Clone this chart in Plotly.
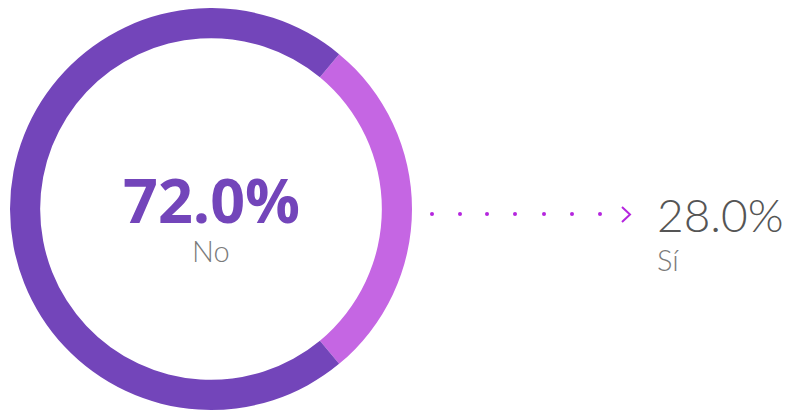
import plotly.graph_objects as go

labels = ["Sí", "No"]
values = [28.0, 72.0]
colors = ["#C566E3", "#7345BA"]

# The page body has an 8px margin; lay out in page pixels and shift.
OFF = 8
W, H = 791 - OFF, 412 - OFF


def px(x):
    return (x - OFF) / W


def py(y):
    return min(1.0, max(0.0, 1 - (y - OFF) / H))


fig = go.Figure()

# rotation so that the "Sí" slice is centered at 3 o'clock
rotation = 90 - values[0] / sum(values) * 360 / 2

fig.add_trace(go.Pie(
    labels=labels, values=values, sort=False, direction="clockwise",
    rotation=rotation, hole=0.85,
    marker=dict(colors=colors, line=dict(width=0)),
    textinfo="none", hoverinfo="label+percent", showlegend=False,
    domain=dict(x=[px(9), px(413)], y=[py(410), py(8)]),
))

# dotted connector to the callout (page pixel positions)
dot_x = [432, 460, 487, 515, 544, 572, 600]
fig.add_trace(go.Scatter(
    x=[x - OFF for x in dot_x], y=[214 - OFF] * len(dot_x), mode="markers",
    marker=dict(size=4, color="#B526DE"), hoverinfo="skip", showlegend=False,
))
fig.add_trace(go.Scatter(
    x=[622 - OFF, 630 - OFF, 622 - OFF], y=[207 - OFF, 214.5 - OFF, 222 - OFF],
    mode="lines", line=dict(color="#B526DE", width=2),
    hoverinfo="skip", showlegend=False,
))

pct = [f"{v:.1f}%" for v in values]

fig.add_annotation(x=px(211), y=py(199), xref="paper", yref="paper",
                   text=f"<b>{pct[1]}</b>", showarrow=False, height=54,
                   font=dict(family="Open Sans", size=61, color="#7345BA"),
                   xanchor="center", yanchor="middle")
fig.add_annotation(x=px(211), y=py(250), xref="paper", yref="paper",
                   text=labels[1], showarrow=False, height=28,
                   font=dict(family="Lato", size=29, color="#7a7a7a", weight=300),
                   xanchor="center", yanchor="middle")
fig.add_annotation(x=px(655), y=py(214), xref="paper", yref="paper",
                   text=pct[0], showarrow=False,
                   font=dict(family="Lato", size=46, color="#555555", weight=300),
                   xanchor="left", yanchor="middle")
fig.add_annotation(x=px(655), y=py(259), xref="paper", yref="paper",
                   text=labels[0], showarrow=False,
                   font=dict(family="Lato", size=29, color="#7a7a7a", weight=300),
                   xanchor="left", yanchor="middle")

fig.update_layout(
    width=W, height=H, margin=dict(l=0, r=0, t=0, b=0),
    paper_bgcolor="white", plot_bgcolor="white",
    xaxis=dict(range=[0, W], visible=False, fixedrange=True),
    yaxis=dict(range=[H, 0], visible=False, fixedrange=True),
)

fig.write_html("out.html")
